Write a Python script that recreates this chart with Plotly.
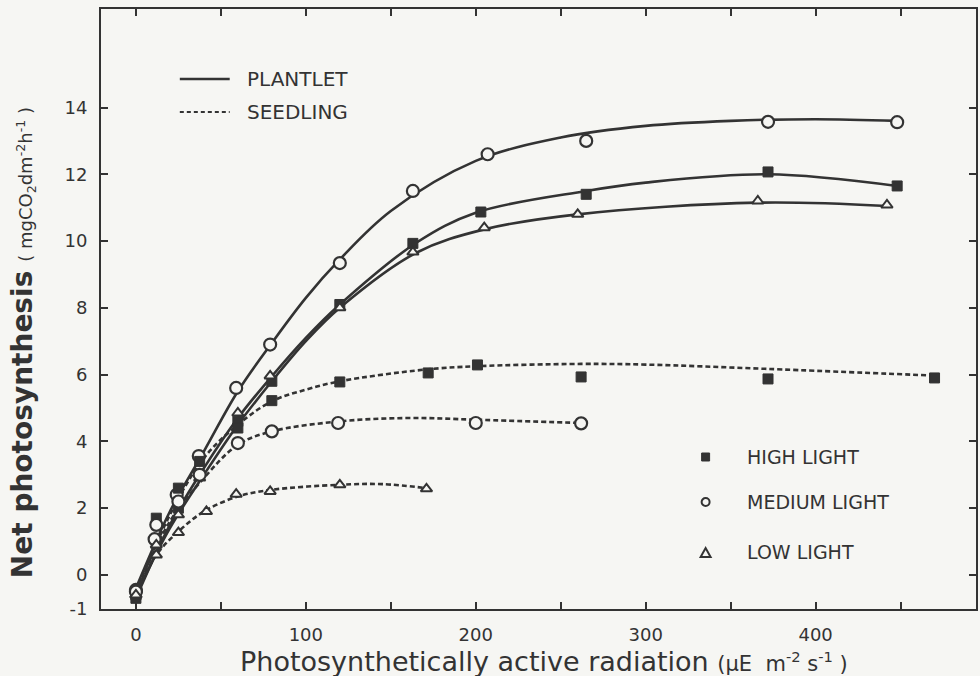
import plotly.graph_objects as go

# ---- measured points: PAR (uE m-2 s-1) vs net photosynthesis (mg CO2 dm-2 h-1)
pl_high_x = [0, 12, 25, 37.5, 60, 80, 120, 163, 203, 265, 372, 448]
pl_high_y = [-0.7, 0.95, 2.0, 3.0, 4.6, 5.8, 8.1, 9.93, 10.87, 11.4, 12.07, 11.65]
pl_med_x = [0, 11, 24, 37, 59, 79, 120, 163, 207, 265, 372, 448]
pl_med_y = [-0.45, 1.07, 2.4, 3.56, 5.6, 6.9, 9.34, 11.5, 12.6, 13.0, 13.57, 13.56]
pl_low_x = [0, 12, 25, 37.5, 60, 79, 120, 163, 205, 260, 366, 442]
pl_low_y = [-0.6, 0.9, 1.8, 2.9, 4.85, 5.96, 8.0, 9.67, 10.4, 10.8, 11.2, 11.08]

sd_high_x = [0, 12, 25, 37.5, 60, 80, 120, 172, 201, 262, 372, 470]
sd_high_y = [-0.6, 1.7, 2.6, 3.4, 4.4, 5.22, 5.78, 6.05, 6.29, 5.93, 5.87, 5.9]
sd_med_x = [0, 12, 25, 37.5, 60, 80, 119, 200, 262]
sd_med_y = [-0.5, 1.5, 2.2, 3.0, 3.95, 4.3, 4.55, 4.55, 4.54]
sd_low_x = [0, 12, 25, 41.5, 59, 79, 120, 171]
sd_low_y = [-0.6, 0.6, 1.27, 1.9, 2.42, 2.5, 2.7, 2.58]

# ---- fitted response curves
pl_high_fx = [0, 20, 40, 60, 80, 100, 120, 165, 200, 265, 300, 372, 448]
pl_high_fy = [-0.7, 1.5, 3.2, 4.7, 5.95, 7.1, 8.1, 9.95, 10.85, 11.5, 11.75, 12.0, 11.65]
pl_med_fx = [0, 20, 40, 60, 80, 100, 120, 150, 200, 250, 300, 350, 400, 448]
pl_med_fy = [-0.4, 1.9, 3.7, 5.5, 6.95, 8.3, 9.45, 10.9, 12.4, 13.1, 13.45, 13.6, 13.65, 13.6]
pl_low_fx = [0, 20, 40, 60, 80, 100, 120, 165, 205, 260, 366, 442]
pl_low_fy = [-0.6, 1.4, 3.0, 4.5, 5.8, 7.0, 8.0, 9.65, 10.35, 10.8, 11.15, 11.05]

sd_high_fx = [0, 20, 40, 60, 80, 100, 120, 170, 200, 262, 300, 372, 470]
sd_high_fy = [-0.6, 1.8, 3.5, 4.5, 5.2, 5.55, 5.8, 6.15, 6.25, 6.32, 6.3, 6.17, 5.97]
sd_med_fx = [0, 20, 40, 60, 80, 120, 160, 200, 262]
sd_med_fy = [-0.5, 1.6, 2.9, 3.9, 4.3, 4.6, 4.7, 4.65, 4.55]
sd_low_fx = [0, 12, 25, 40, 60, 80, 120, 145, 171]
sd_low_fy = [-0.6, 0.6, 1.3, 1.9, 2.35, 2.55, 2.7, 2.72, 2.6]

x_ticks = [0, 100, 200, 300, 400]
x_tick_text = ["0", "100", "200", "300", "400"]
y_ticks = [-1, 0, 2, 4, 6, 8, 10, 12, 14]
y_tick_text = ["-1", "0", "2", "4", "6", "8", "10", "12", "14"]

INK = "#333333"
BG = "#f6f6f3"
FONT = "DejaVu Sans"

fig = go.Figure()

curves = [
    (pl_high_fx, pl_high_fy, "solid"),
    (pl_med_fx, pl_med_fy, "solid"),
    (pl_low_fx, pl_low_fy, "solid"),
    (sd_high_fx, sd_high_fy, "5px,3px"),
    (sd_med_fx, sd_med_fy, "5px,3px"),
    (sd_low_fx, sd_low_fy, "5px,3px"),
]
for cx, cy, dash in curves:
    fig.add_trace(go.Scatter(x=cx, y=cy, mode="lines", line_shape="spline",
                             line=dict(color=INK, width=2.6, dash=dash),
                             hoverinfo="skip", showlegend=False))

sq = dict(symbol="square", size=10, color=INK, line=dict(color=INK, width=1))
ci = dict(symbol="circle", size=12, color=BG, line=dict(color=INK, width=2.2))
tr = dict(symbol="triangle-up", size=10, color=BG, line=dict(color=INK, width=2))

points = [
    (pl_high_x, pl_high_y, sq), (pl_med_x, pl_med_y, ci), (pl_low_x, pl_low_y, tr),
    (sd_high_x, sd_high_y, sq), (sd_med_x, sd_med_y, ci), (sd_low_x, sd_low_y, tr),
]
for px, py, mk in points:
    fig.add_trace(go.Scatter(x=px, y=py, mode="markers", marker=mk,
                             showlegend=False))

# plot area in pixels: left 101, right 978, top 9, bottom 609
L, R, T, B = 101, 978, 9, 609
def xp(px):
    return (px - L) / (R - L)
def yp(py):
    return (B - py) / (B - T)

shapes = [
    dict(type="line", xref="paper", yref="paper", x0=xp(180), x1=xp(230),
         y0=yp(79), y1=yp(79), line=dict(color=INK, width=2.4)),
    dict(type="line", xref="paper", yref="paper", x0=xp(180), x1=xp(230),
         y0=yp(112), y1=yp(112), line=dict(color=INK, width=2.2, dash="4px,3px")),
    # light-level keys
    dict(type="rect", xref="paper", yref="paper", x0=xp(703), x1=xp(711),
         y0=yp(461), y1=yp(453), fillcolor=INK, line=dict(color=INK, width=1)),
    dict(type="circle", xref="paper", yref="paper", x0=xp(703), x1=xp(711),
         y0=yp(506), y1=yp(498), fillcolor=BG, line=dict(color=INK, width=2)),
    dict(type="path", xref="paper", yref="paper",
         path=f"M {xp(702)} {yp(557)} L {xp(712)} {yp(557)} L {xp(707)} {yp(548)} Z",
         fillcolor=BG, line=dict(color=INK, width=2)),
]

annotations = [
    dict(text="PLANTLET", x=xp(245), y=yp(79), font=dict(size=20)),
    dict(text="SEEDLING", x=xp(245), y=yp(112), font=dict(size=20)),
    dict(text="HIGH LIGHT", x=xp(746), y=yp(457), font=dict(size=19)),
    dict(text="MEDIUM LIGHT", x=xp(746), y=yp(502), font=dict(size=19)),
    dict(text="LOW LIGHT", x=xp(746), y=yp(552), font=dict(size=19)),
]
for a in annotations:
    a["font"].update(family=FONT, color=INK)
    a.update(xref="paper", yref="paper", xanchor="left", yanchor="middle",
             showarrow=False)

annotations.append(dict(
    text="<b>Net photosynthesis</b> <span style='font-size:18px'>( mgCO<sub>2</sub>dm<sup>-2</sup>h<sup>-1</sup> )</span>",
    textangle=-90, x=xp(22), y=yp(343), xref="paper", yref="paper",
    xanchor="center", yanchor="middle", showarrow=False,
    font=dict(family=FONT, size=28, color=INK)))
annotations.append(dict(
    text="Photosynthetically active radiation <span style='font-size:21px'>(\u03bcE  m<sup>-2</sup> s<sup>-1</sup> )</span>",
    x=xp(545), y=yp(661), xref="paper", yref="paper",
    xanchor="center", yanchor="middle", showarrow=False,
    font=dict(family=FONT, size=27, color=INK)))

axis_common = dict(showgrid=False, zeroline=False, showline=True, linecolor=INK,
                   linewidth=2, mirror="ticks", ticks="inside", ticklen=7,
                   tickwidth=1.6, tickcolor=INK, ticklabelstandoff=8,
                   tickfont=dict(family=FONT, size=18, color=INK))

fig.update_layout(
    width=980, height=676,
    margin=dict(l=L, r=980 - R, t=T, b=676 - B),
    paper_bgcolor=BG, plot_bgcolor=BG,
    xaxis=dict(range=[-20.55, 494.4], tickmode="array", tickvals=x_ticks,
               ticktext=x_tick_text,
               minor=dict(tick0=0, dtick=50, ticks="inside", ticklen=7,
                          tickwidth=1.6, tickcolor=INK, showgrid=False),
               **axis_common),
    yaxis=dict(range=[-1.02, 16.95], tickmode="array", tickvals=y_ticks,
               ticktext=y_tick_text, **axis_common),
    shapes=shapes, annotations=annotations, showlegend=False,
)

fig.write_html("out.html")
